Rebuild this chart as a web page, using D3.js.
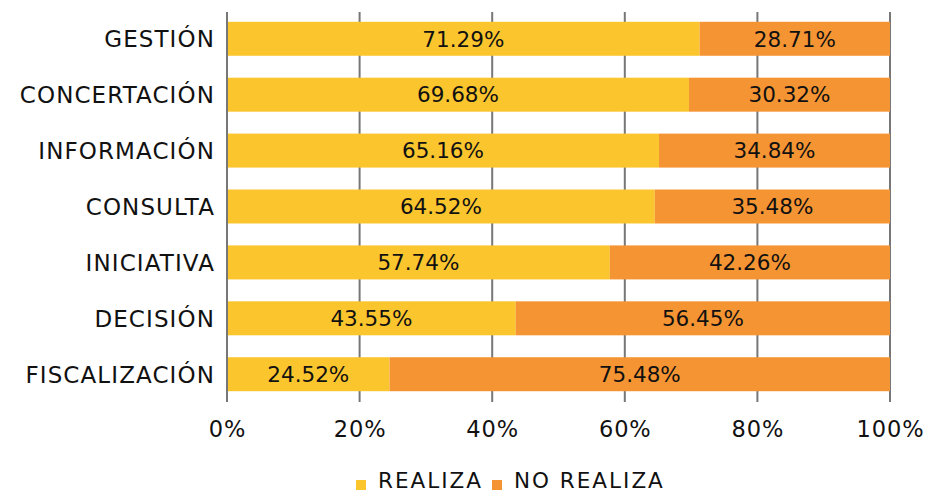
<!DOCTYPE html>
<html>
<head>
<meta charset="utf-8">
<script src="https://cdn.jsdelivr.net/npm/d3@7"></script>
<style>
  body { margin: 0; background: #fff; }
  text { font-family: "DejaVu Sans", sans-serif; fill: #111; }
</style>
</head>
<body>
<div id="chart"></div>
<script>
// Chart data
var categories = ["GESTIÓN", "CONCERTACIÓN", "INFORMACIÓN", "CONSULTA", "INICIATIVA", "DECISIÓN", "FISCALIZACIÓN"];
var realiza = [71.29, 69.68, 65.16, 64.52, 57.74, 43.55, 24.52];
var noRealiza = [28.71, 30.32, 34.84, 35.48, 42.26, 56.45, 75.48];
var seriesNames = ["REALIZA", "NO REALIZA"];
var tickValues = [0, 20, 40, 60, 80, 100];

var colors = ["#FBC52E", "#F59433"];

var svgWidth = 930;
var svgHeight = 493;

var svg = d3.select("#chart")
  .append("svg")
  .attr("width", svgWidth)
  .attr("height", svgHeight);

// scales
var xScale = d3.scaleLinear()
  .domain([0, 100])
  .range([227, 890]);

var yScale = d3.scaleBand()
  .domain(categories)
  .range([12, 401])
  .paddingInner(0.392)
  .paddingOuter(0.175);

// gridlines
svg.append("g")
  .selectAll("line")
  .data(tickValues)
  .enter()
  .append("line")
  .attr("x1", d => xScale(d))
  .attr("x2", d => xScale(d))
  .attr("y1", 12)
  .attr("y2", 402)
  .attr("stroke", "#777")
  .attr("stroke-width", 2);

// build stacked rows
var rows = categories.map(function(c, i) {
  return { cat: c, realiza: realiza[i], noRealiza: noRealiza[i] };
});
var stack = d3.stack().keys(["realiza", "noRealiza"])(rows);

var layers = svg.append("g")
  .selectAll("g")
  .data(stack)
  .enter()
  .append("g")
  .attr("fill", (d, i) => colors[i]);

layers.selectAll("rect")
  .data(d => d)
  .enter()
  .append("rect")
  .attr("x", d => xScale(d[0]) + (d[0] === 0 ? 1 : 0))
  .attr("y", d => yScale(d.data.cat))
  .attr("width", d => xScale(d[1]) - xScale(d[0]) - (d[0] === 0 ? 1 : 0))
  .attr("height", yScale.bandwidth());

// value labels
layers.selectAll("text")
  .data(d => d)
  .enter()
  .append("text")
  .attr("x", d => (xScale(d[0]) + xScale(d[1])) / 2)
  .attr("y", d => yScale(d.data.cat) + yScale.bandwidth() / 2)
  .attr("dy", "0.36em")
  .attr("text-anchor", "middle")
  .attr("font-size", "21.5px")
  .text(d => (d[1] - d[0]).toFixed(2) + "%");

// category labels
var yAxis = d3.axisLeft(yScale).tickSize(0).tickPadding(12);
var yAxisG = svg.append("g")
  .attr("transform", "translate(227,0)")
  .call(yAxis);
yAxisG.select(".domain").remove();
yAxisG.selectAll("text")
  .attr("font-size", "23px")
  .attr("dy", "0.36em")
  .style("letter-spacing", "1.1px")
  .style("font-family", "DejaVu Sans, sans-serif")
  .attr("fill", "#111");

// x axis ticks
var xAxis = d3.axisBottom(xScale)
  .tickValues(tickValues)
  .tickSize(0)
  .tickPadding(0)
  .tickFormat(d => d + "%");
var xAxisG = svg.append("g")
  .attr("transform", "translate(0,420)")
  .call(xAxis);
xAxisG.select(".domain").remove();
xAxisG.selectAll("text")
  .attr("font-size", "22.5px")
  .attr("dy", "0.76em")
  .style("letter-spacing", "0.9px")
  .style("font-family", "DejaVu Sans, sans-serif")
  .attr("fill", "#111");

// legend
var legendX = [356, 492];
var legend = svg.append("g")
  .selectAll("g")
  .data(seriesNames)
  .enter()
  .append("g")
  .attr("transform", (d, i) => `translate(${legendX[i]}, 480)`);

legend.append("rect")
  .attr("width", 10)
  .attr("height", 10)
  .attr("fill", (d, i) => colors[i]);

legend.append("text")
  .attr("x", 22)
  .attr("y", 7.5)
  .attr("font-size", "21.5px")
  .style("letter-spacing", "2px")
  .text(d => d);
</script>
</body>
</html>
